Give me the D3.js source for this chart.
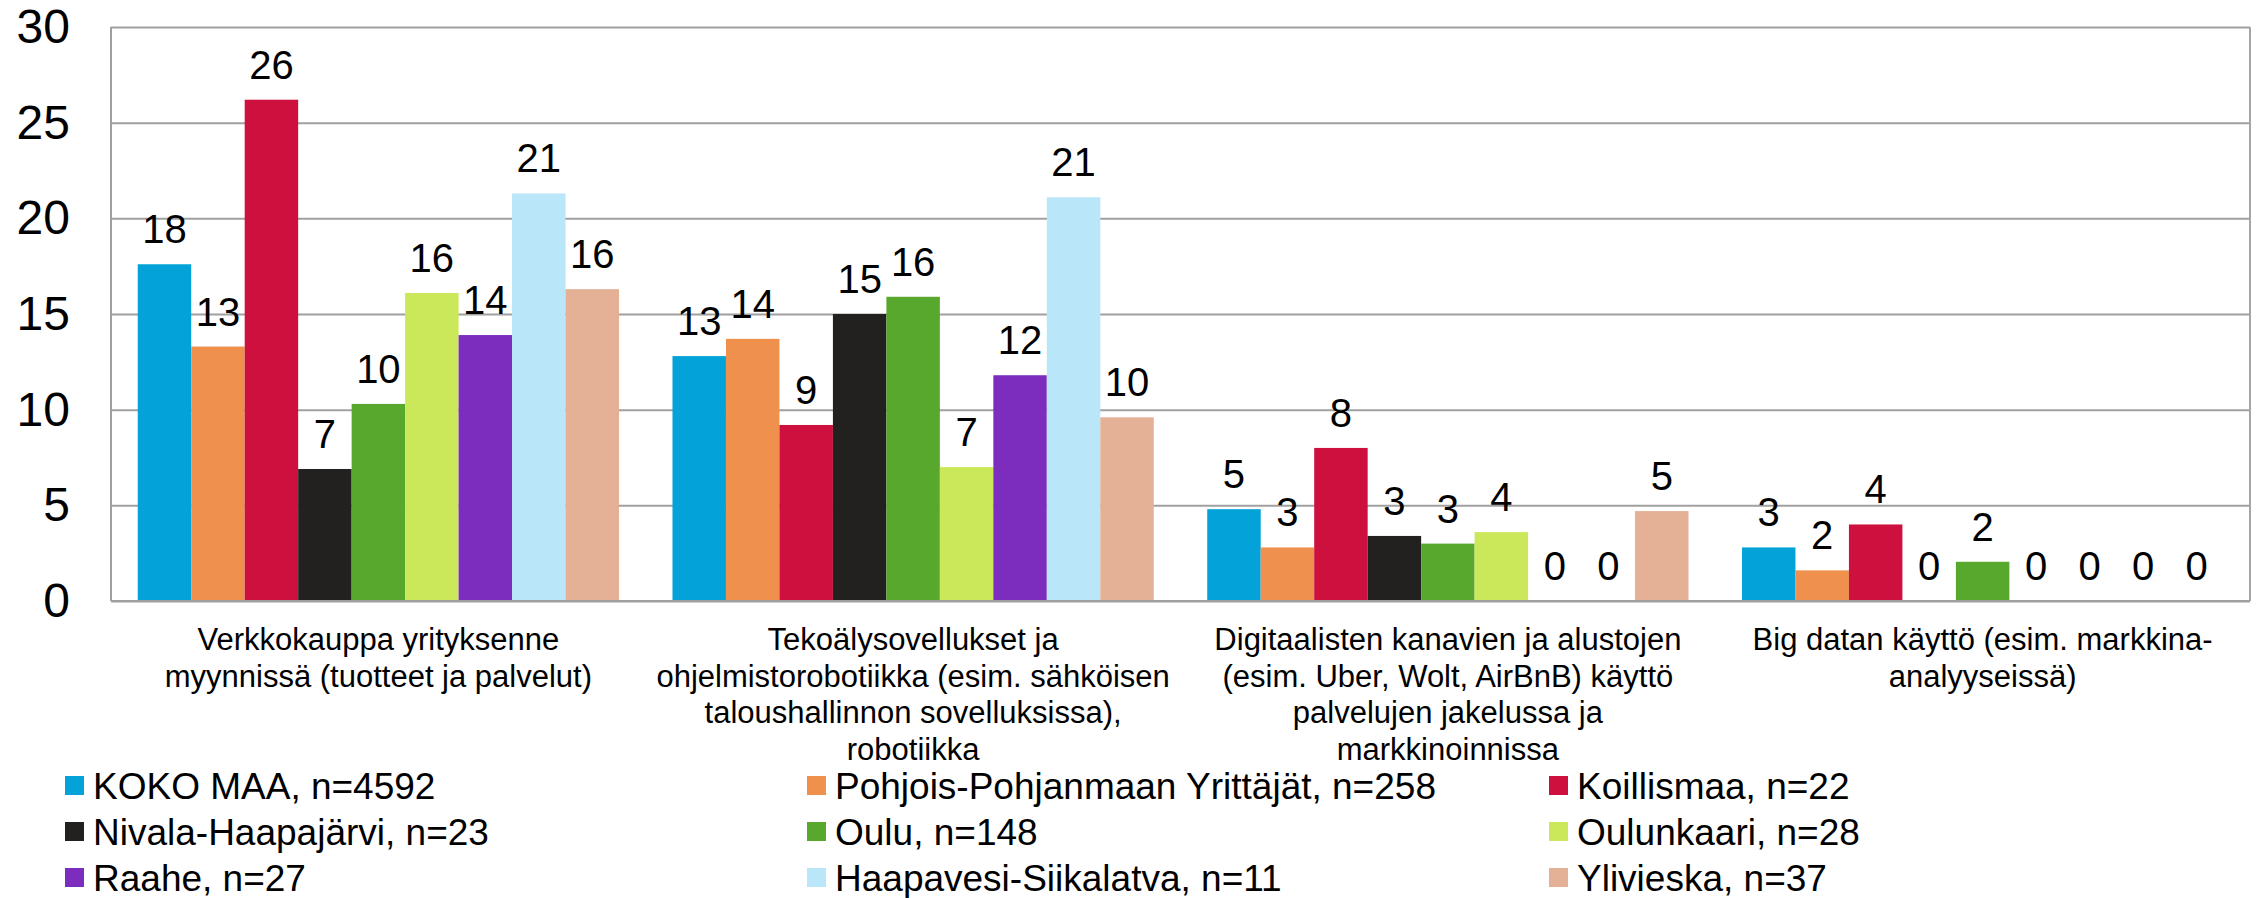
<!DOCTYPE html>
<meta charset="utf-8">
<style>
body { margin: 0; background: #fff; }
svg { font-family: "Liberation Sans", Arial, sans-serif; }
.grid line { stroke: #a0a0a0; stroke-width: 2px; }
.grid text { font-size: 48px; fill: #000; }
.val { font-size: 40px; fill: #000; text-anchor: middle; }
.cat { font-size: 31px; fill: #000; text-anchor: middle; }
.leg text { font-size: 37px; fill: #000; }
</style>
<body>
<script src="https://d3js.org/d3.v7.min.js"></script>
<script>
// categories, one line per row of the label
var categories = [
    ["Verkkokauppa yrityksenne", "myynnissä (tuotteet ja palvelut)"],
    ["Tekoälysovellukset ja", "ohjelmistorobotiikka (esim. sähköisen", "taloushallinnon sovelluksissa),", "robotiikka"],
    ["Digitaalisten kanavien ja alustojen", "(esim. Uber, Wolt, AirBnB) käyttö", "palvelujen jakelussa ja", "markkinoinnissa"],
    ["Big datan käyttö (esim. markkina-", "analyyseissä)"]
];

var seriesNames = [
    "KOKO MAA, n=4592", "Pohjois-Pohjanmaan Yrittäjät, n=258", "Koillismaa, n=22",
    "Nivala-Haapajärvi, n=23", "Oulu, n=148", "Oulunkaari, n=28",
    "Raahe, n=27", "Haapavesi-Siikalatva, n=11", "Ylivieska, n=37"
];

var seriesColors = ["#03a3d9", "#ef914c", "#ce103e", "#232120", "#58a82d",
    "#cbe85b", "#7d2dbe", "#b9e6f8", "#e4b197"];

// values per series, one per category
var kokoMaa      = [17.6, 12.8, 4.8, 2.8];
var pohjois      = [13.3, 13.7, 2.8, 1.6];
var koillismaa   = [26.2, 9.2, 8.0, 4.0];
var nivala       = [6.9, 15.0, 3.4, 0];
var oulu         = [10.3, 15.9, 3.0, 2.05];
var oulunkaari   = [16.1, 7.0, 3.6, 0];
var raahe        = [13.9, 11.8, 0, 0];
var haapavesi    = [21.3, 21.1, 0, 0];
var ylivieska    = [16.3, 9.6, 4.7, 0];

var values = [kokoMaa, pohjois, koillismaa, nivala, oulu, oulunkaari, raahe, haapavesi, ylivieska];

var yTicks = [0, 5, 10, 15, 20, 25, 30];

var width = 2260, height = 898;
var margin = {top: 27, left: 111, right: 10, bottom: 297};
var plotW = width - margin.left - margin.right,
    plotH = height - margin.top - margin.bottom;

var svg = d3.select("body").append("svg")
    .attr("width", width)
    .attr("height", height);

var g = svg.append("g")
    .attr("transform", "translate(" + margin.left + "," + margin.top + ")");

var x0 = d3.scaleBand()
    .domain(d3.range(categories.length))
    .range([0, plotW])
    .padding(0);

var x1 = d3.scaleBand()
    .domain(d3.range(seriesNames.length))
    .range([0, x0.bandwidth()])
    .paddingInner(0)
    .paddingOuter(0.5);

var y = d3.scaleLinear()
    .domain([0, 30])
    .range([plotH, 0]);

// gridlines + tick labels
var yAxis = g.append("g")
    .attr("class", "grid")
    .call(d3.axisLeft(y).tickValues(yTicks).tickSize(-plotW).tickPadding(41));
yAxis.select(".domain").remove();
yAxis.selectAll("line").attr("stroke", "#a0a0a0");

// frame
g.append("line").attr("x1", 0).attr("x2", 0).attr("y1", 0).attr("y2", plotH)
    .attr("stroke", "#a0a0a0").attr("stroke-width", 2);
g.append("line").attr("x1", plotW).attr("x2", plotW).attr("y1", 0).attr("y2", plotH)
    .attr("stroke", "#a6a6a6").attr("stroke-width", 2);

// bars
var groups = g.selectAll(".group")
    .data(categories)
    .enter().append("g")
    .attr("class", "group")
    .attr("transform", function (d, i) { return "translate(" + x0(i) + ",0)"; });

groups.selectAll("rect")
    .data(function (d, i) { return values.map(function (s, k) { return {k: k, v: s[i]}; }); })
    .enter().append("rect")
    .attr("x", function (d) { return x1(d.k); })
    .attr("y", function (d) { return y(d.v); })
    .attr("width", x1.bandwidth())
    .attr("height", function (d) { return plotH - y(d.v); })
    .attr("fill", function (d) { return seriesColors[d.k]; });

groups.selectAll(".val")
    .data(function (d, i) { return values.map(function (s, k) { return {k: k, v: s[i]}; }); })
    .enter().append("text")
    .attr("class", "val")
    .attr("x", function (d) { return x1(d.k) + x1.bandwidth() / 2; })
    .attr("y", function (d) { return y(d.v) - 21; })
    .text(function (d) { return Math.round(d.v); });

// bottom axis line on top of bars
g.append("line").attr("x1", 0).attr("x2", plotW).attr("y1", plotH).attr("y2", plotH)
    .attr("stroke", "#a0a0a0").attr("stroke-width", 2);

// category labels
groups.append("text")
    .attr("class", "cat")
    .attr("y", plotH + 49)
    .selectAll("tspan")
    .data(function (d) { return d; })
    .enter().append("tspan")
    .attr("x", x0.bandwidth() / 2)
    .attr("dy", function (d, i) { return i === 0 ? 0 : 36.7; })
    .text(function (d) { return d; });

// legend
var legend = svg.append("g").attr("class", "leg");
var leg = legend.selectAll("g")
    .data(seriesNames)
    .enter().append("g")
    .attr("transform", function (d, i) {
        return "translate(" + (65 + (i % 3) * 742) + "," + (776 + Math.floor(i / 3) * 46) + ")";
    });

leg.append("rect")
    .attr("width", 19)
    .attr("height", 19)
    .attr("fill", function (d, i) { return seriesColors[i]; });

leg.append("text")
    .attr("x", 28)
    .attr("y", 23)
    .text(function (d) { return d; });
</script>
</body>
